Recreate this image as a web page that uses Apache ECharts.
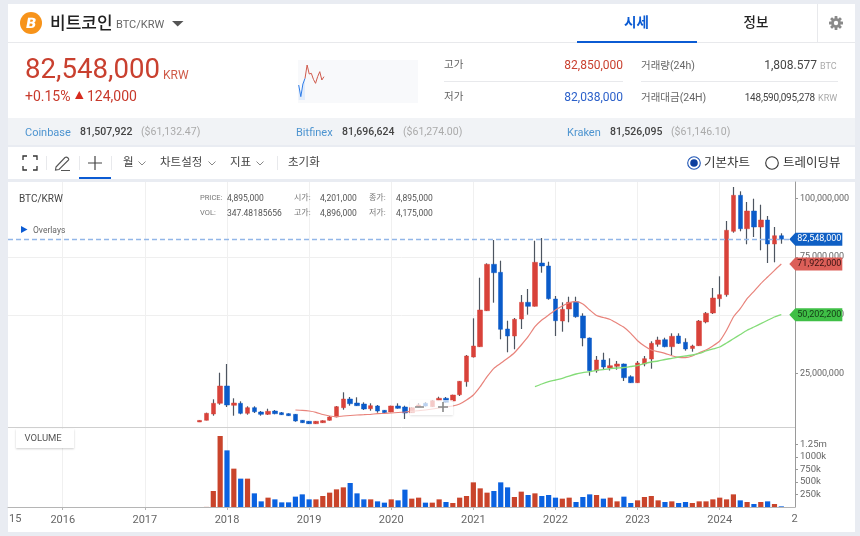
<!DOCTYPE html>
<html lang="ko"><head><meta charset="utf-8"><title>BTC/KRW</title>
<script src="https://cdn.jsdelivr.net/npm/echarts@6/dist/echarts.min.js"></script>
<style>
html,body{margin:0;padding:0;width:860px;height:536px;overflow:hidden;background:#e9ecf2;font-family:Roboto,"Noto Sans CJK KR",sans-serif;color:#333}
.p{position:absolute;left:8px;width:847px}
.t{position:absolute;white-space:nowrap;transform:translateY(-50%);line-height:1;z-index:5}
.l{position:absolute;background:#e8e9ec;z-index:5}
svg{position:absolute;z-index:5;overflow:visible}
#chart{position:absolute;left:0;top:0;width:860px;height:536px;z-index:2}
</style></head><body>
<div class="p" style="top:4px;height:114px;background:#fff"></div>
<div class="p" style="top:118px;height:27px;background:#f1f3f6"></div>
<div class="p" style="top:147px;height:32px;background:#fff"></div>
<div class="p" style="top:182px;height:350px;background:#fff"></div>
<div class="l" style="left:8px;top:42px;width:847px;height:1px"></div>
<div class="l" style="left:817px;top:4px;width:1px;height:38px"></div>
<div style="position:absolute;left:20px;top:12px;width:22px;height:22px;border-radius:50%;background:#f7931a;z-index:5"></div>
<span class="t" style="left:26px;top:23px;font:bold 14px 'DejaVu Sans';color:#fff;transform:translateY(-50%) skewX(-10deg)">B</span>
<span class="t" style="left:50px;top:23px;font-size:17px;font-weight:500;color:#222">비트코인</span>
<span class="t" style="left:116px;top:23.5px;font-size:11px;color:#666">BTC/KRW</span>
<svg style="left:172px;top:21px" width="12" height="6"><path d="M0 0H11.5L5.7 5.5Z" fill="#555"/></svg>
<span class="t" style="left:624px;top:23px;font-size:13.5px;font-weight:700;color:#0b5bd3">시세</span>
<span class="t" style="left:743.5px;top:23px;font-size:13.5px;font-weight:500;color:#222">정보</span>
<div style="position:absolute;left:577px;top:40.5px;width:120px;height:2px;background:#0b5bd3;z-index:6"></div>
<svg style="left:829px;top:16px" width="14" height="14" viewBox="-7 -7 14 14"><g fill="#8a8a8a"><circle r="4.8"/><g id="g"><rect x="-1.4" y="-7" width="2.8" height="14" rx=".5"/><rect x="-1.4" y="-7" width="2.8" height="14" rx=".5" transform="rotate(45)"/><rect x="-1.4" y="-7" width="2.8" height="14" rx=".5" transform="rotate(90)"/><rect x="-1.4" y="-7" width="2.8" height="14" rx=".5" transform="rotate(135)"/></g></g><circle r="2.2" fill="#fff"/></svg>

<span class="t" style="left:25px;top:69px;font-size:27.6px;color:#c9402f">82,548,000</span>
<span class="t" style="left:163px;top:74.5px;font-size:12px;color:#cf5a48">KRW</span>
<span class="t" style="left:25px;top:95.5px;font-size:14px;color:#c8392b">+0.15%</span>
<svg style="left:75px;top:91px" width="9" height="8"><path d="M0 8H8.5L4.25 0Z" fill="#d62b1f"/></svg>
<span class="t" style="left:87px;top:95.5px;font-size:14px;color:#c8392b">124,000</span>
<div style="position:absolute;left:298px;top:60px;width:120px;height:43px;background:#f8f9fb;z-index:1"></div>

<span class="t" style="left:444px;top:65px;font-size:10.5px;color:#666">고가</span>
<span class="t" style="right:237px;top:65px;font-size:12px;color:#c9402f">82,850,000</span>
<div class="l" style="left:444px;top:81px;width:179px;height:1px"></div>
<span class="t" style="left:444px;top:97px;font-size:10.5px;color:#666">저가</span>
<span class="t" style="right:237px;top:97px;font-size:12px;color:#2a5fc9">82,038,000</span>
<span class="t" style="left:641px;top:65.5px;font-size:10.5px;color:#666">거래량(24h)</span>
<span class="t" style="right:43px;top:65px;font-size:12px;color:#444">1,808.577</span>
<span class="t" style="left:820px;top:66px;font-size:9px;color:#aaa">BTC</span>
<div class="l" style="left:641px;top:81px;width:197px;height:1px"></div>
<span class="t" style="left:641px;top:97.5px;font-size:10.5px;color:#666">거래대금(24H)</span>
<span class="t" style="right:45px;top:97.5px;font-size:10px;letter-spacing:-.2px;color:#444">148,590,095,278</span>
<span class="t" style="left:818px;top:98px;font-size:9px;color:#aaa">KRW</span>

<span class="t" style="left:25px;top:132px;font-size:11px;color:#4d94d0">Coinbase</span>
<span class="t" style="left:80px;top:132px;font-size:10.5px;font-weight:500;color:#444">81,507,922</span>
<span class="t" style="left:141px;top:132px;font-size:10.5px;color:#aaa">($61,132.47)</span>
<span class="t" style="left:296px;top:132px;font-size:11px;color:#4d94d0">Bitfinex</span>
<span class="t" style="left:342px;top:132px;font-size:10.5px;font-weight:500;color:#444">81,696,624</span>
<span class="t" style="left:403px;top:132px;font-size:10.5px;color:#aaa">($61,274.00)</span>
<span class="t" style="left:567px;top:132px;font-size:11px;color:#4d94d0">Kraken</span>
<span class="t" style="left:610px;top:132px;font-size:10.5px;font-weight:500;color:#444">81,526,095</span>
<span class="t" style="left:671px;top:132px;font-size:10.5px;color:#aaa">($61,146.10)</span>

<svg style="left:23px;top:156px" width="14" height="14" fill="none" stroke="#333" stroke-width="1.3"><path d="M0 4V0H4M10 0H14V4M14 10V14H10M4 14H0V10"/></svg>
<div class="l" style="left:46px;top:156px;width:1px;height:14px"></div>
<svg style="left:54px;top:155px" width="17" height="16" fill="none" stroke="#555" stroke-width="1.1"><path d="M2 12L11 2.5Q12.5 1.5 14 3T14 5.5L5 14.5L1.5 15ZM7 15.5H16"/></svg>
<div class="l" style="left:79px;top:156px;width:1px;height:14px"></div>
<svg style="left:88px;top:156px" width="14" height="14" stroke="#444" stroke-width="1.2"><path d="M7 0V14M0 7H14"/></svg>
<div style="position:absolute;left:79px;top:177px;width:32px;height:2px;background:#0b5bd3;z-index:6"></div>
<div class="l" style="left:111px;top:156px;width:1px;height:14px"></div>
<span class="t" style="left:123px;top:163px;font-size:11.5px;color:#444">월</span>
<span class="t" style="left:160px;top:163px;font-size:11.5px;color:#444">차트설정</span>
<span class="t" style="left:230px;top:163px;font-size:11.5px;color:#444">지표</span>
<span class="t" style="left:288px;top:163px;font-size:11.5px;color:#444">초기화</span>
<svg style="left:138px;top:161px" width="8" height="5" fill="none" stroke="#888"><path d="M.5 .5L4 4L7.5 .5"/></svg>
<svg style="left:208px;top:161px" width="8" height="5" fill="none" stroke="#888"><path d="M.5 .5L4 4L7.5 .5"/></svg>
<svg style="left:256px;top:161px" width="8" height="5" fill="none" stroke="#888"><path d="M.5 .5L4 4L7.5 .5"/></svg>
<div class="l" style="left:277px;top:156px;width:1px;height:14px"></div>
<svg style="left:687px;top:156px" width="14" height="14"><circle cx="7" cy="7" r="6.3" fill="#fff" stroke="#1f55b5" stroke-width="1.1"/><circle cx="7" cy="7" r="3.8" fill="#0c3f9f"/></svg>
<span class="t" style="left:704px;top:163px;font-size:12.5px;color:#333">기본차트</span>
<svg style="left:765px;top:156px" width="14" height="14"><circle cx="7" cy="7" r="6.3" fill="#fff" stroke="#333" stroke-width="1.1"/></svg>
<span class="t" style="left:783px;top:163px;font-size:12.5px;color:#333">트레이딩뷰</span>

<div id="chart"></div>

<span class="t" style="left:19px;top:199px;font-size:10px;color:#444">BTC/KRW</span>
<span class="t" style="left:200px;top:198px;font-size:7.5px;color:#777">PRICE:</span>
<span class="t" style="left:227px;top:198px;font-size:8.5px;color:#555">4,895,000</span>
<span class="t" style="left:294px;top:198px;font-size:8px;color:#777">시가:</span>
<span class="t" style="left:320px;top:198px;font-size:8.5px;color:#555">4,201,000</span>
<span class="t" style="left:369px;top:198px;font-size:8px;color:#777">종가:</span>
<span class="t" style="left:396px;top:198px;font-size:8.5px;color:#555">4,895,000</span>
<span class="t" style="left:200px;top:212.5px;font-size:7.5px;color:#777">VOL:</span>
<span class="t" style="left:227px;top:212.5px;font-size:8.5px;color:#555">347.48185656</span>
<span class="t" style="left:294px;top:212.5px;font-size:8px;color:#777">고가:</span>
<span class="t" style="left:320px;top:212.5px;font-size:8.5px;color:#555">4,896,000</span>
<span class="t" style="left:369px;top:212.5px;font-size:8px;color:#777">저가:</span>
<span class="t" style="left:396px;top:212.5px;font-size:8.5px;color:#555">4,175,000</span>
<svg style="left:21px;top:226px" width="7" height="7"><path d="M0 0V7L6.5 3.5Z" fill="#0b5bd3"/></svg>
<span class="t" style="left:33px;top:229.5px;font-size:8.5px;color:#666">Overlays</span>
<div style="position:absolute;left:16px;top:429px;width:58px;height:18.5px;background:#fff;box-shadow:0 1px 2px rgba(0,0,0,.2);z-index:4"></div>
<span class="t" style="left:24.5px;top:438px;font-size:9.5px;color:#555">VOLUME</span>
<div style="position:absolute;left:410px;top:400px;width:43px;height:15px;background:rgba(255,255,255,.72);box-shadow:0 1px 2px rgba(0,0,0,.12);z-index:4"></div>
<svg style="left:415px;top:402px" width="34" height="11" stroke="#888" stroke-width="1.6"><path d="M0 5H9M23 5H33M28 0V10"/></svg>

<script>
const categories=['2015-05','2015-06','2015-07','2015-08','2015-09','2015-10','2015-11','2015-12',
'2016-01','2016-02','2016-03','2016-04','2016-05','2016-06','2016-07','2016-08','2016-09','2016-10','2016-11','2016-12',
'2017-01','2017-02','2017-03','2017-04','2017-05','2017-06','2017-07','2017-08','2017-09','2017-10','2017-11','2017-12',
'2018-01','2018-02','2018-03','2018-04','2018-05','2018-06','2018-07','2018-08','2018-09','2018-10','2018-11','2018-12',
'2019-01','2019-02','2019-03','2019-04','2019-05','2019-06','2019-07','2019-08','2019-09','2019-10','2019-11','2019-12',
'2020-01','2020-02','2020-03','2020-04','2020-05','2020-06','2020-07','2020-08','2020-09','2020-10','2020-11','2020-12',
'2021-01','2021-02','2021-03','2021-04','2021-05','2021-06','2021-07','2021-08','2021-09','2021-10','2021-11','2021-12',
'2022-01','2022-02','2022-03','2022-04','2022-05','2022-06','2022-07','2022-08','2022-09','2022-10','2022-11','2022-12',
'2023-01','2023-02','2023-03','2023-04','2023-05','2023-06','2023-07','2023-08','2023-09','2023-10','2023-11','2023-12',
'2024-01','2024-02','2024-03','2024-04','2024-05','2024-06','2024-07','2024-08','2024-09','2024-10','2024-11','2024-12'];
// monthly candles from 2017-09: open, close, low, high (million KRW)
const candles=[
[4.201,4.895,4.175,4.896],[4.93,7.93,4.9,8.19],[7.63,12.21,6.90,13.93],[12.21,19.63,11.61,25.33],
[19.63,11.49,10.63,29.06],[11.36,12.34,6.90,14.36],[12.21,7.93,7.50,13.07],[7.93,10.33,7.33,10.93],[10.33,8.61,8.06,10.93],[8.49,7.50,6.90,8.91],[7.50,8.79,7.20,9.90],[8.91,7.76,7.50,9.34],[8.19,7.33,7.20,8.49],[7.76,6.90,6.77,7.93],[7.50,4.63,4.33,7.63],[4.93,3.90,3.77,5.06],
[4.50,3.47,3.34,4.63],[3.47,4.50,3.34,4.63],[3.90,4.76,3.77,4.93],[4.93,6.34,4.80,6.77],[6.34,10.76,6.21,11.06],[10.33,14.06,9.47,16.93],[14.06,12.04,11.19,14.91],[12.34,11.19,11.06,14.79],[11.91,9.77,9.34,12.64],[9.90,11.19,9.04,12.21],[11.06,8.91,8.19,11.49],[9.21,8.19,8.06,9.34],
[8.49,11.06,8.36,11.19],[11.06,10.07,9.90,12.21],[10.63,8.06,5.49,11.19],[8.19,10.33,8.06,10.63],[10.63,11.49,10.41,12.34],[12.21,11.06,10.84,12.77],[10.76,13.33,10.63,13.63],[13.33,14.36,13.20,15.04],[14.36,12.64,12.47,14.91],[13.20,15.77,13.07,15.90],[15.90,21.64,15.34,21.77],[21.47,32.49,19.33,32.91],
[32.06,36.77,31.84,48.64],[36.47,52.20,36.34,66.04],[51.90,71.79,51.77,72.21],[71.79,68.19,55.33,82.2],[68.36,43.93,39.64,73.33],[44.06,41.06,34.07,47.61],[41.06,48.21,35.36,48.77],[48.34,55.50,44.06,58.63],[55.50,53.79,50.19,61.20],[53.79,72.64,53.70,81.90],[72.34,71.06,68.19,83.06],[71.06,57.04,56.61,72.90],
[56.91,47.61,41.06,58.20],[47.49,52.50,42.90,55.50],[52.63,55.50,46.93,57.90],[55.76,49.33,48.90,57.90],[49.63,40.20,36.64,50.79],[40.20,26.19,24.04,40.41],[26.19,30.77,25.33,32.49],[30.77,27.77,26.91,33.90],[27.34,28.33,26.27,31.50],[28.07,29.06,26.61,30.34],[29.06,23.19,21.77,29.27],[23.61,21.04,20.91,24.21],
[21.04,29.49,20.91,30.34],[29.06,31.33,28.07,32.49],[31.20,37.93,27.04,38.79],[37.50,39.34,36.47,40.76],[39.47,36.47,36.21,40.33],[36.47,40.93,32.91,42.21],[41.06,37.93,37.63,42.21],[38.36,35.49,34.76,40.07],[35.70,36.77,34.33,37.33],[36.90,47.49,36.77,47.91],[47.06,50.79,46.50,51.34],[50.91,57.34,50.49,61.63],
[57.04,58.76,53.61,66.64],[58.76,86.36,57.90,90.34],[85.93,101.36,85.33,104.91],[101.36,87.04,85.93,103.07],[87.04,94.63,80.36,98.49],[94.63,87.77,83.49,99.90],[87.77,90.77,77.79,97.33],[90.77,80.49,72.34,92.49],[80.49,84.04,72.64,87.77],[84.04,82.548,80.61,85.07]];
// monthly volume from 2017-09 (thousand BTC)
const volumes=[0.35,2,320,1420,
1133,767,567,567,273,113,187,153,93,93,207,253,
153,153,220,287,353,393,480,273,153,153,113,87,
153,133,347,167,187,87,87,153,100,80,187,220,
493,373,287,320,493,393,200,307,240,273,220,240,
187,167,187,100,200,253,240,167,187,113,207,80,
133,200,220,133,100,113,80,100,80,113,113,153,
187,153,253,133,100,60,100,113,60,13];
// moving averages (million KRW): red from 2018-11, green from 2021-10
const maShort=[9.34,9.21,
8.91,8.36,7.41,6.77,6.47,6.77,6.99,7.20,7.33,7.50,7.76,7.89,
8.06,8.27,8.49,8.79,9.04,9.34,9.77,10.20,10.63,11.06,11.91,13.63,
15.77,19.33,23.61,27.21,29.36,31.50,33.90,37.20,40.76,45.04,47.91,50.06,
52.20,53.91,55.33,55.76,54.77,52.20,49.84,48.99,48.13,46.50,44.79,42.21,
39.04,36.77,35.06,34.33,33.64,32.61,31.93,31.76,32.49,33.90,35.06,36.77,
38.91,43.50,49.20,52.76,57.04,60.21,63.47,66.34,69.21,71.922];
const maLong=[19.33,20.49,21.47,
22.20,22.93,23.91,24.77,25.33,25.76,26.36,26.61,27.04,27.34,27.56,27.99,
28.41,29.27,29.91,30.34,30.99,31.50,32.06,32.49,32.91,33.56,34.63,35.49,
36.34,38.06,39.90,41.70,43.50,44.91,46.33,47.79,49.20,50.2022];
const firstCandle=28, firstShort=42, firstLong=77;
const currentPrice=82.548;
const priceTicks=[25,50,75,100];
const volumeTicks=[250,500,750,1000,1250];
const volumeTickLabels=['250k','500k','750k','1000k','1.25m'];
const sparkBlue=[45,10,48,65];
const sparkRed=[65,105,78,80,62,50,70,85,60,70];

const RED='#d8423a', BLUE='#0a5bc9', WICK='#4d5560', VRED='#c9442b', VBLUE='#0b62e0';
const FONT='Roboto';
const pad=(n,a)=>Array(n).fill('-').concat(a);
const isYear=(i)=>categories[i].endsWith('-01');
const won=v=>Math.round(v*1e6).toLocaleString('en-US');
const wickData=pad(firstCandle,candles).map(d=>d==='-'?['-','-','-','-']:d);
const bodyData=pad(firstCandle,candles).map(d=>d==='-'?['-','-','-','-']:[d[0],d[1],Math.min(d[0],d[1]),Math.max(d[0],d[1])]);
const volData=pad(firstCandle,volumes).map((v,i)=>{
  if(v==='-')return '-';
  const c=candles[i-firstCandle];
  return {value:v,itemStyle:{color:c[1]>=c[0]?VRED:VBLUE}};
});
const lastIdx=firstCandle+candles.length-1;
const tags=[
 {v:maLong[maLong.length-1],bg:'#3fbf46',fg:'#143d16'},
 {v:maShort[maShort.length-1],bg:'#dc5f58',fg:'#3a1412'},
 {v:currentPrice,bg:'#0f5fc4',fg:'#fff'}];

const chart=echarts.init(document.getElementById('chart'),null,{renderer:'canvas'});
chart.setOption({
 animation:false,
 textStyle:{fontFamily:FONT},
 grid:[
  {left:8,right:65,top:182,height:249.8},
  {left:8,right:65,top:428,height:79},
  {left:298.7,top:60,width:120,height:43}],
 xAxis:[
  {type:'category',gridIndex:0,data:categories,boundaryGap:false,axisLine:{show:false},axisTick:{show:false},axisLabel:{show:false},
   splitLine:{show:true,interval:i=>isYear(i),lineStyle:{color:'#f0f0f0',width:1}}},
  {type:'category',gridIndex:1,data:categories,boundaryGap:false,
   axisLine:{lineStyle:{color:'#b5b5b5',width:1}},
   axisTick:{interval:i=>isYear(i),length:3,lineStyle:{color:'#b5b5b5'}},
   axisLabel:{interval:i=>isYear(i),formatter:v=>v.slice(0,4),color:'#666',fontSize:11,margin:8},
   splitLine:{show:true,interval:i=>isYear(i),lineStyle:{color:'#f0f0f0',width:1}}},
  {type:'value',gridIndex:2,min:0,max:57,show:false}],
 yAxis:[
  {type:'value',gridIndex:0,position:'right',min:0,max:107.06,interval:25,
   axisLine:{show:true,lineStyle:{color:'#9a9a9a',width:1}},
   axisTick:{show:true,length:3,customValues:priceTicks,lineStyle:{color:'#9a9a9a'}},
   axisLabel:{customValues:priceTicks,formatter:won,color:'#666',fontSize:9,margin:5},
   splitLine:{show:true,showMinLine:false,showMaxLine:false,lineStyle:{color:'#efefef',width:1}}},
  {type:'value',gridIndex:1,position:'right',min:0,max:1580,interval:250,
   axisLine:{show:true,lineStyle:{color:'#9a9a9a',width:1}},
   axisTick:{show:true,length:3,customValues:volumeTicks,lineStyle:{color:'#9a9a9a'}},
   axisLabel:{customValues:volumeTicks,formatter:v=>volumeTickLabels[volumeTicks.indexOf(v)]||'',color:'#666',fontSize:9.5,margin:5},
   splitLine:{show:false}},
  {type:'value',gridIndex:2,min:-9,max:120,show:false}],
 graphic:[
  {type:'line',z:3,silent:true,shape:{x1:8,y1:427.5,x2:795,y2:427.5},style:{stroke:'#cfcfcf',lineWidth:1}},
  {type:'text',z:3,silent:true,style:{x:9,y:513.5,text:'15',fill:'#666',font:'11px Roboto'}},
  {type:'text',z:3,silent:true,style:{x:791.5,y:513.5,text:'2',fill:'#666',font:'11px Roboto'}}],
 series:[
  {type:'candlestick',name:'wick',xAxisIndex:0,yAxisIndex:0,data:wickData,barWidth:1,z:2,silent:true,
   itemStyle:{color:WICK,color0:WICK,borderColor:WICK,borderColor0:WICK,borderColorDoji:WICK,borderWidth:1.2},
   markLine:{silent:true,symbol:'none',label:{show:false},lineStyle:{color:'#92b6e8',type:[5,3],width:1.3},data:[{yAxis:currentPrice}]}},
  {type:'candlestick',name:'body',xAxisIndex:0,yAxisIndex:0,data:bodyData,barWidth:5,z:3,silent:true,
   itemStyle:{color:RED,color0:BLUE,borderColor:RED,borderColor0:BLUE,borderColorDoji:RED,borderWidth:.5}},
  {type:'line',name:'MA short',xAxisIndex:0,yAxisIndex:0,data:pad(firstShort,maShort),showSymbol:false,smooth:.2,z:4,silent:true,lineStyle:{color:'#e8837b',width:1.2}},
  {type:'line',name:'MA long',xAxisIndex:0,yAxisIndex:0,data:pad(firstLong,maLong),showSymbol:false,smooth:.2,z:4,silent:true,lineStyle:{color:'#84dc78',width:1.3}},
  {type:'custom',name:'tags',xAxisIndex:0,yAxisIndex:0,z:10,silent:true,clip:false,
   encode:{x:0,y:1},data:tags.map(t=>[lastIdx,t.v]),
   renderItem:(params,api)=>{
    const t=tags[params.dataIndex], p=api.coord([api.value(0),api.value(1)]);
    const x=p[0]+8, y=p[1];
    return {type:'group',children:[
     {type:'polygon',shape:{points:[[x,y],[x+6,y-6.5],[x+53,y-6.5],[x+53,y+6.5],[x+6,y+6.5]]},style:{fill:t.bg}},
     {type:'text',style:{x:x+30,y:y,text:won(t.v),fill:t.fg,font:'9px Roboto',align:'center',verticalAlign:'middle'}}]};
   }},
  {type:'bar',name:'volume',xAxisIndex:1,yAxisIndex:1,data:volData,barWidth:5.2,silent:true},
  {type:'line',name:'spark down',xAxisIndex:2,yAxisIndex:2,data:sparkBlue.map((v,i)=>[i,v]),showSymbol:false,silent:true,lineStyle:{color:'#2f7de8',width:1},areaStyle:{color:'#dbe9fb',opacity:.8}},
  {type:'line',name:'spark up',xAxisIndex:2,yAxisIndex:2,data:sparkRed.map((v,i)=>[i+3,v]),showSymbol:false,silent:true,lineStyle:{color:'#cf5a4c',width:1}}
 ]
});
</script>
</body></html>
